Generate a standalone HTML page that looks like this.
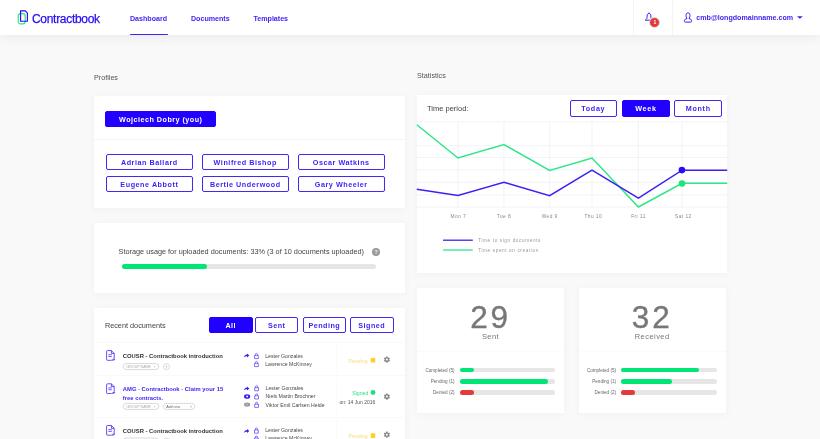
<!DOCTYPE html>
<html><head><meta charset="utf-8">
<style>
*{box-sizing:border-box;margin:0;padding:0}
html,body{width:820px;height:439px;overflow:hidden}
body{background:#f9f9f9;font-family:"Liberation Sans",sans-serif;position:relative;color:#444}
.a{position:absolute;white-space:nowrap}
.hdr{left:0;top:0;width:820px;height:35px;background:#fff;box-shadow:0 2px 12px rgba(0,0,0,.065);z-index:2}
.nav{font-size:7.1px;line-height:7.1px;font-weight:bold;color:#3a1ff0}
.card{background:#fff;box-shadow:0 1px 8px rgba(0,0,0,.04)}
.lbl{font-size:7.2px;line-height:7.2px;color:#555}
.btn{border:1.4px solid #4128f5;border-radius:2px;color:#3a1ff5;font-weight:bold;font-size:7.2px;letter-spacing:.55px;text-align:center;background:#fff}
.btn.f{background:#2200ff;color:#fff;border-color:#2200ff}
.pb{width:86.5px;height:16px;line-height:15px}
.fb{height:16px;line-height:15.2px;letter-spacing:.5px}
.tb{height:16.6px;line-height:15.2px;letter-spacing:.7px}
.dt{font-size:5.85px;line-height:5.85px;font-weight:bold;color:#333}
.nm{font-size:5.2px;line-height:5.2px;color:#4a4a4a}
.sl{font-size:4.6px;line-height:4.6px;color:#666;text-align:right;width:40px}
.ax{font-size:4.8px;line-height:4.8px;color:#888;letter-spacing:.45px;text-align:center;width:30px}
.lg{font-size:4.7px;line-height:4.7px;color:#999;letter-spacing:.6px}
.big{font-size:31.5px;line-height:31.5px;color:#777;letter-spacing:2.8px;-webkit-text-stroke:.35px #777;text-align:center;width:147px}
.sub{font-size:7.5px;line-height:7.5px;color:#777;letter-spacing:.45px;text-align:center;width:147px}
</style></head><body>
<div id="root" style="position:absolute;left:0;top:0;width:820px;height:439px;will-change:transform">
<div class="a hdr">
  <svg class="a" style="left:16px;top:9px" width="14" height="17" viewBox="0 0 14 17">
    <rect x="2.2" y="4.6" width="7" height="10.2" rx="2.3" fill="none" stroke="#2ee68a" stroke-width="1.2"/>
    <path d="M4.6 1.8 H9.3 L11.4 4.2 V12.2 H4.6 Z" fill="none" stroke="#2a0cf5" stroke-width="1.15" stroke-linejoin="miter"/>
  </svg>
  <div class="a" style="left:32px;top:12.9px;font-size:12px;line-height:12px;color:#2a0cf5;letter-spacing:-.3px;-webkit-text-stroke:.25px #2a0cf5">Contractbook</div>
  <div class="a nav" style="left:130px;top:15.7px">Dashboard</div>
  <div class="a nav" style="left:191px;top:15.7px">Documents</div>
  <div class="a nav" style="left:253.5px;top:15.7px">Templates</div>
  <div class="a" style="left:129.9px;top:33.7px;width:38.5px;height:1.6px;border-radius:1px;background:#3f25f5"></div>
  <div class="a" style="left:633px;top:0;width:1px;height:35px;background:#f4f4f4"></div>
  <div class="a" style="left:672px;top:0;width:1px;height:35px;background:#f4f4f4"></div>
  <!-- bell -->
  <svg class="a" style="left:644px;top:12px" width="10" height="10" viewBox="0 0 10 10">
    <path d="M5 1.5 C3.6 1.5 3.1 2.7 3.1 4.1 V5.5 C3.1 6.5 2.4 7.2 1.5 7.9 V8.2 H8.5 V7.9 C7.6 7.2 6.9 6.5 6.9 5.5 V4.1 C6.9 2.7 6.4 1.5 5 1.5Z M5 .6 V1.5" fill="none" stroke="#3a1ff0" stroke-width="1"/>
  </svg>
  <div class="a" style="left:649.4px;top:17.1px;width:11px;height:11px;border-radius:50%;background:#e23a3a;border:.6px solid #dde6e6;color:#fff;font-size:5px;font-weight:bold;text-align:center;line-height:9.8px">1</div>
  <!-- user -->
  <svg class="a" style="left:683px;top:12px" width="10" height="11" viewBox="0 0 10 11">
    <path d="M3.9 6.7 V6.1 C3.2 5.5 3 4.5 3 3.3 C3 1.6 3.8 0.9 5 0.9 C6.2 0.9 7 1.6 7 3.3 C7 4.5 6.8 5.5 6.1 6.1 V6.7 C7.8 7 8.6 7.7 8.6 8.7 V9.3 Q8.6 10.1 7.8 10.1 H2.2 Q1.4 10.1 1.4 9.3 V8.7 C1.4 7.7 2.2 7 3.9 6.7Z" fill="none" stroke="#3a1ff0" stroke-width="1"/>
  </svg>
  <div class="a nav" style="left:696.3px;top:15.1px">cmb@longdomainname.com</div>
  <svg class="a" style="left:797px;top:16.4px" width="6" height="4" viewBox="0 0 6 4"><path d="M0 0.2 H5.8 L2.9 2.8Z" fill="#3a1ff0"/></svg>
</div>

<!-- ===== Profiles ===== -->
<div class="a lbl" style="left:94px;top:73.8px">Profiles</div>
<div class="a card" style="left:94px;top:95.5px;width:311px;height:112.7px">
  <div class="a" style="left:0;top:43.5px;width:311px;height:1px;background:#f4f4f4"></div>
</div>
<div class="a btn f" style="left:105.1px;top:110.9px;width:111.4px;height:15.8px;line-height:15px;letter-spacing:.48px">Wojciech Dobry (you)</div>
<div class="a btn pb" style="left:106.1px;top:154.1px">Adrian Ballard</div>
<div class="a btn pb" style="left:202px;top:154.1px">Winifred Bishop</div>
<div class="a btn pb" style="left:298px;top:154.1px">Oscar Watkins</div>
<div class="a btn pb" style="left:106.1px;top:175.8px">Eugene Abbott</div>
<div class="a btn pb" style="left:202px;top:175.8px">Bertie Underwood</div>
<div class="a btn pb" style="left:298px;top:175.8px">Gary Wheeler</div>

<!-- ===== Storage ===== -->
<div class="a card" style="left:94px;top:223px;width:311px;height:70px"></div>
<div class="a" style="left:118.6px;top:247.9px;font-size:7.3px;line-height:7.3px;color:#444">Storage usage for uploaded documents: 33% (3 of 10 documents uploaded)</div>
<div class="a" style="left:371.8px;top:247.8px;width:8.4px;height:8.4px;border-radius:50%;background:#9a9a9a;color:#e8e8e8;font-size:6px;font-weight:bold;text-align:center;line-height:8.6px">?</div>
<div class="a" style="left:122.2px;top:264px;width:253.6px;height:5px;border-radius:3px;background:#e6e6e6"></div>
<div class="a" style="left:122.2px;top:264px;width:85px;height:5px;border-radius:3px;background:#00e676"></div>

<!-- ===== Recent docs ===== -->
<div class="a card" style="left:94px;top:308px;width:311px;height:140px">
  <div class="a" style="left:0;top:34px;width:311px;height:1px;background:#f9f9f9"></div>
  <div class="a" style="left:0;top:67px;width:311px;height:1px;background:#f9f9f9"></div>
  <div class="a" style="left:0;top:109px;width:311px;height:1px;background:#f9f9f9"></div>
  <div class="a" style="left:242px;top:37px;width:1px;height:28px;background:#fafafa"></div>
  <div class="a" style="left:242px;top:71px;width:1px;height:35px;background:#fafafa"></div>
  <div class="a" style="left:242px;top:112px;width:1px;height:28px;background:#fafafa"></div>
</div>
<div class="a" style="left:104.9px;top:321.8px;font-size:7.3px;line-height:7.3px;color:#444">Recent documents</div>
<div class="a btn f fb" style="left:208.9px;top:317.2px;width:43.7px">All</div>
<div class="a btn fb" style="left:254.9px;top:317.2px;width:43.6px">Sent</div>
<div class="a btn fb" style="left:302.7px;top:317.2px;width:43.3px">Pending</div>
<div class="a btn fb" style="left:349.9px;top:317.2px;width:43.7px">Signed</div>

<!-- rows text -->
<div class="a dt" style="left:122.8px;top:353.8px">COUSR - Contractbook introduction</div>
<div class="a dt" style="left:122.8px;top:387.4px;color:#3a1ff5">AMG - Contractbook - Claim your 15</div>
<div class="a dt" style="left:122.8px;top:395.8px;color:#3a1ff5">free contracts.</div>
<div class="a dt" style="left:122.8px;top:429.1px">COUSR - Contractbook introduction</div>

<div class="a nm" style="left:265.2px;top:353.7px">Lester Gonzales</div>
<div class="a nm" style="left:265.2px;top:361.7px">Lawrence McKinney</div>
<div class="a nm" style="left:265.6px;top:386px">Lester Gonzales</div>
<div class="a nm" style="left:265.6px;top:394.2px">Niels Martin Brochner</div>
<div class="a nm" style="left:265.6px;top:402.6px">Viktor Emil Carlsen Heide</div>
<div class="a nm" style="left:265.2px;top:428.4px">Lester Gonzales</div>
<div class="a nm" style="left:265.2px;top:436.4px">Lawrence McKinney</div>

<div class="a nm" style="left:348.5px;top:359px;color:#f7dc7a;font-size:5.2px">Pending</div>
<div class="a nm" style="left:352.2px;top:391.2px;color:#2ee07e;font-size:5.2px">Signed</div>
<div class="a nm" style="left:339.5px;top:399.6px;color:#555;font-size:5px">on: 14 Jun 2016</div>
<div class="a nm" style="left:348.5px;top:434.1px;color:#f7dc7a;font-size:5.2px">Pending</div>

<!-- ===== Statistics ===== -->
<div class="a lbl" style="left:417px;top:71.8px">Statistics</div>
<div class="a card" style="left:416.7px;top:94.8px;width:310.5px;height:178.3px"></div>
<div class="a" style="left:427px;top:105.2px;font-size:7.5px;line-height:7.5px;color:#444">Time period:</div>
<div class="a btn tb" style="left:569.5px;top:100.2px;width:47.5px">Today</div>
<div class="a btn f tb" style="left:622px;top:100.2px;width:47.9px">Week</div>
<div class="a btn tb" style="left:674.3px;top:100.2px;width:47.9px">Month</div>

<div class="a ax" style="left:443.4px;top:215.2px">Mon 7</div>
<div class="a ax" style="left:488.9px;top:215.2px">Tue 8</div>
<div class="a ax" style="left:534.7px;top:215.2px">Wed 9</div>
<div class="a ax" style="left:578.3px;top:215.2px">Thu 10</div>
<div class="a ax" style="left:623.5px;top:215.2px">Fri 11</div>
<div class="a ax" style="left:668.4px;top:215.2px">Sat 12</div>
<div class="a lg" style="left:478.2px;top:238.9px">Time to sign documents</div>
<div class="a lg" style="left:478.2px;top:248.8px">Time spent on creation</div>

<!-- stat cards -->
<div class="a card" style="left:417px;top:288px;width:147px;height:125px">
  <div class="a" style="left:0;top:62.6px;width:147px;height:1px;background:#fbfbfb"></div>
</div>
<div class="a card" style="left:578.7px;top:288px;width:147px;height:125px">
  <div class="a" style="left:0;top:62.6px;width:147px;height:1px;background:#fbfbfb"></div>
</div>
<div class="a big" style="left:417px;top:301.7px">29</div>
<div class="a sub" style="left:417px;top:333px">Sent</div>
<div class="a big" style="left:578.7px;top:301.7px">32</div>
<div class="a sub" style="left:578.7px;top:333px">Received</div>

<div class="a sl" style="left:414.5px;top:368.7px">Completed (5)</div>
<div class="a sl" style="left:414.5px;top:379.8px">Pending (1)</div>
<div class="a sl" style="left:414.5px;top:390.9px">Denied (2)</div>
<div class="a sl" style="left:576px;top:368.7px">Completed (5)</div>
<div class="a sl" style="left:576px;top:379.8px">Pending (1)</div>
<div class="a sl" style="left:576px;top:390.9px">Denied (2)</div>

<!-- bars -->
<div class="a" style="left:459.8px;top:368px;width:95.5px;height:4.4px;border-radius:3px;background:#e6e6e6"></div>
<div class="a" style="left:459.8px;top:368px;width:14.2px;height:4.4px;border-radius:3px;background:#00e676"></div>
<div class="a" style="left:459.8px;top:379.2px;width:95.5px;height:4.4px;border-radius:3px;background:#e6e6e6"></div>
<div class="a" style="left:459.8px;top:379.2px;width:88px;height:4.4px;border-radius:3px;background:#00e676"></div>
<div class="a" style="left:459.8px;top:390.4px;width:95.5px;height:4.4px;border-radius:3px;background:#e6e6e6"></div>
<div class="a" style="left:459.8px;top:390.4px;width:14.2px;height:4.4px;border-radius:3px;background:#e03c3c"></div>

<div class="a" style="left:621.2px;top:368px;width:95.6px;height:4.4px;border-radius:3px;background:#e6e6e6"></div>
<div class="a" style="left:621.2px;top:368px;width:77.8px;height:4.4px;border-radius:3px;background:#00e676"></div>
<div class="a" style="left:621.2px;top:379.2px;width:95.6px;height:4.4px;border-radius:3px;background:#e6e6e6"></div>
<div class="a" style="left:621.2px;top:379.2px;width:51px;height:4.4px;border-radius:3px;background:#00e676"></div>
<div class="a" style="left:621.2px;top:390.4px;width:95.6px;height:4.4px;border-radius:3px;background:#e6e6e6"></div>
<div class="a" style="left:621.2px;top:390.4px;width:14.1px;height:4.4px;border-radius:3px;background:#e03c3c"></div>

<!-- vector overlay -->
<svg class="a" style="left:0;top:0" width="820" height="439" viewBox="0 0 820 439">
  <!-- chart grid -->
  <g stroke="#f0f0f0" stroke-width=".8" fill="none">
    <path d="M416.6 121.9H727.2M416.6 145.6H727.2M416.6 157.5H727.2M416.6 170H727.2M416.6 182.4H727.2M416.6 194.8H727.2M416.6 207.1H727.2"/>
    <path d="M458.2 121.9V207.1M503.9 121.9V207.1M549.6 121.9V207.1M592 121.9V207.1M638.4 121.9V207.1M682.1 121.9V207.1"/>
  </g>
  <polyline points="416.8,124.8 458,158 504,144.6 549.6,170.4 592,158.1 638.4,207 682.1,183.3 727.2,183.3" fill="none" stroke="#2ee68a" stroke-width="1.45" stroke-linejoin="miter"/>
  <polyline points="416.8,189.2 458,195.5 504,182.2 549.6,195.6 592,170.2 638.4,198.2 682.1,170.2 727.2,170.2" fill="none" stroke="#3a20f5" stroke-width="1.45" stroke-linejoin="miter"/>
  <circle cx="681.9" cy="170.1" r="3.3" fill="#2a0cf5"/>
  <circle cx="682" cy="183.5" r="3.3" fill="#1ee47c"/>
  <!-- legend -->
  <path d="M443 240.2H472.8" stroke="#3a20f5" stroke-width="1.3"/>
  <path d="M443 250H472.8" stroke="#2ee68a" stroke-width="1.3"/>

  <!-- doc icons -->
  <g fill="none" stroke="#4a30f5" stroke-width=".85" stroke-linejoin="round">
    <path d="M107.4 350.6 H111.4 L114.2 353.4 V359.5 Q114.2 360.3 113.4 360.3 H107.4 Q106.6 360.3 106.6 359.5 V351.4 Q106.6 350.6 107.4 350.6Z M111.4 350.6 V353.4 H114.2" fill="none"/><path d="M108.4 354.7 H111.8 M108.4 356.5 H111.8" stroke-width=".8"/><path d="M111.6 360.7 C111.8 359.3 112.6 358.7 113.6 358.7 V357.7 L115.3 359.2 L113.6 360.7 V359.8 C112.8 359.8 112.2 360.1 111.6 360.7Z" fill="#3a1ff5" stroke="#fff" stroke-width=".4"/>
    <path d="M107.4 383.8 H111.4 L114.2 386.6 V392.7 Q114.2 393.5 113.4 393.5 H107.4 Q106.6 393.5 106.6 392.7 V384.6 Q106.6 383.8 107.4 383.8Z M111.4 383.8 V386.6 H114.2" fill="none"/><path d="M108.4 387.9 H111.8 M108.4 389.7 H111.8" stroke-width=".8"/><path d="M111.6 393.9 C111.8 392.5 112.6 391.9 113.6 391.9 V390.9 L115.3 392.4 L113.6 393.9 V393.0 C112.8 393.0 112.2 393.3 111.6 393.9Z" fill="#3a1ff5" stroke="#fff" stroke-width=".4"/>
    <path d="M107.4 425.5 H111.4 L114.2 428.3 V434.4 Q114.2 435.2 113.4 435.2 H107.4 Q106.6 435.2 106.6 434.4 V426.3 Q106.6 425.5 107.4 425.5Z M111.4 425.5 V428.3 H114.2" fill="none"/><path d="M108.4 429.6 H111.8 M108.4 431.4 H111.8" stroke-width=".8"/><path d="M111.6 435.6 C111.8 434.2 112.6 433.6 113.6 433.6 V432.6 L115.3 434.1 L113.6 435.6 V434.7 C112.8 434.7 112.2 435.0 111.6 435.6Z" fill="#3a1ff5" stroke="#fff" stroke-width=".4"/>
  </g>
  <!-- pills -->
  <g fill="none" stroke="#c8c8c8" stroke-width=".7">
    <rect x="123.3" y="363.6" width="35.4" height="6" rx="3"/>
    <circle cx="166.5" cy="366.6" r="3"/>
    <rect x="123.3" y="403.4" width="35.4" height="6" rx="3"/>
    <rect x="163.2" y="403.4" width="31.5" height="6" rx="3" stroke="#aaa" stroke-dasharray="1 .6"/>
    <rect x="123.3" y="438" width="35.4" height="6" rx="3"/>
    <circle cx="166.5" cy="441" r="3"/>
  </g>
  <g fill="#aaa" font-family="Liberation Sans" font-size="3.6">
    <text x="126.5" y="367.9">GROUP NAME</text><text x="153.5" y="367.9">×</text>
    <text x="126.5" y="407.7">GROUP NAME</text><text x="153.5" y="407.7">×</text>
    <text x="166.2" y="407.7" fill="#666">Add new</text>
  </g>
  <path d="M164.9 366.6H168.1M166.5 365V368.2" stroke="#ccc" stroke-width=".5"/>
  <path d="M190.5 405.7 L191.8 406.6 L190.5 407.5" fill="none" stroke="#888" stroke-width=".5"/>

  <!-- share arrows -->
  <g fill="#3a1ff5">
    <path d="M244.1 357.3 C244.29999999999998 355.3 245.5 354.5 247.0 354.5 V353.5 L249.29999999999998 355.5 L247.0 357.5 V356.2 C245.7 356.2 244.79999999999998 356.6 244.1 357.3Z"/>
    <path d="M244.1 390.3 C244.29999999999998 388.3 245.5 387.5 247.0 387.5 V386.5 L249.29999999999998 388.5 L247.0 390.5 V389.2 C245.7 389.2 244.79999999999998 389.6 244.1 390.3Z"/>
    <path d="M244.1 432.8 C244.29999999999998 430.8 245.5 430.0 247.0 430.0 V429.0 L249.29999999999998 431.0 L247.0 433.0 V431.7 C245.7 431.7 244.79999999999998 432.1 244.1 432.8Z"/>
    <!-- eye filled -->
    <ellipse cx="247.1" cy="396.5" rx="3.1" ry="2.3"/>
  </g>
  <circle cx="247.1" cy="396.5" r=".9" fill="#fff"/>
  <ellipse cx="247.1" cy="404.6" rx="3.1" ry="2.2" fill="#9a9a9a"/>
  <circle cx="247.1" cy="404.6" r=".8" fill="#c8c8c8"/>
  <!-- locks -->
  <g fill="none" stroke="#5a45f6" stroke-width=".75">
    <path d="M254.5 355.4 h3.8 v3.2 h-3.8 Z M255.35 355.4 v-.9 a1.05 1.05 0 0 1 2.1 0 v.9"/>
    <path d="M254.5 363.4 h3.8 v3.2 h-3.8 Z M255.35 363.4 v-.9 a1.05 1.05 0 0 1 2.1 0 v.9"/>
    <path d="M254.7 387.6 h3.8 v3.2 h-3.8 Z M255.55 387.6 v-.9 a1.05 1.05 0 0 1 2.1 0 v.9"/>
    <path d="M254.7 395.8 h3.8 v3.2 h-3.8 Z M255.55 395.8 v-.9 a1.05 1.05 0 0 1 2.1 0 v.9"/>
    <path d="M254.7 404.2 h3.8 v3.2 h-3.8 Z M255.55 404.2 v-.9 a1.05 1.05 0 0 1 2.1 0 v.9"/>
    <path d="M254.5 430.0 h3.8 v3.2 h-3.8 Z M255.35 430.0 v-.9 a1.05 1.05 0 0 1 2.1 0 v.9"/>
    <path d="M254.5 438.0 h3.8 v3.2 h-3.8 Z M255.35 438.0 v-.9 a1.05 1.05 0 0 1 2.1 0 v.9"/>
  </g>
  <!-- status marks -->
  <rect x="370.7" y="357.9" width="4.6" height="4.6" rx=".8" fill="#fdd21a"/>
  <circle cx="373" cy="392.5" r="2.4" fill="#1fe07a"/>
  <rect x="370.7" y="433.3" width="4.6" height="4.6" rx=".8" fill="#fdd21a"/>
  <!-- gears -->
<path d="M386.15 356.49 L387.65 356.49 L387.64 357.32 L388.51 357.82 L389.22 357.40 L389.97 358.69 L389.25 359.10 L389.25 360.10 L389.97 360.51 L389.22 361.80 L388.51 361.38 L387.64 361.88 L387.65 362.71 L386.15 362.71 L386.16 361.88 L385.29 361.38 L384.58 361.80 L383.83 360.51 L384.55 360.10 L384.55 359.10 L383.83 358.69 L384.58 357.40 L385.29 357.82 L386.16 357.32Z M387.90 359.60 a1.0 1.0 0 1 0 -2.00 0 a1.0 1.0 0 1 0 2.00 0Z" fill="#888" fill-rule="evenodd"/>
<path d="M386.15 393.49 L387.65 393.49 L387.64 394.32 L388.51 394.82 L389.22 394.40 L389.97 395.69 L389.25 396.10 L389.25 397.10 L389.97 397.51 L389.22 398.80 L388.51 398.38 L387.64 398.88 L387.65 399.71 L386.15 399.71 L386.16 398.88 L385.29 398.38 L384.58 398.80 L383.83 397.51 L384.55 397.10 L384.55 396.10 L383.83 395.69 L384.58 394.40 L385.29 394.82 L386.16 394.32Z M387.90 396.60 a1.0 1.0 0 1 0 -2.00 0 a1.0 1.0 0 1 0 2.00 0Z" fill="#888" fill-rule="evenodd"/>
<path d="M386.15 431.59 L387.65 431.59 L387.64 432.42 L388.51 432.92 L389.22 432.50 L389.97 433.79 L389.25 434.20 L389.25 435.20 L389.97 435.61 L389.22 436.90 L388.51 436.48 L387.64 436.98 L387.65 437.81 L386.15 437.81 L386.16 436.98 L385.29 436.48 L384.58 436.90 L383.83 435.61 L384.55 435.20 L384.55 434.20 L383.83 433.79 L384.58 432.50 L385.29 432.92 L386.16 432.42Z M387.90 434.70 a1.0 1.0 0 1 0 -2.00 0 a1.0 1.0 0 1 0 2.00 0Z" fill="#888" fill-rule="evenodd"/>
</svg>
</div>
</body></html>
